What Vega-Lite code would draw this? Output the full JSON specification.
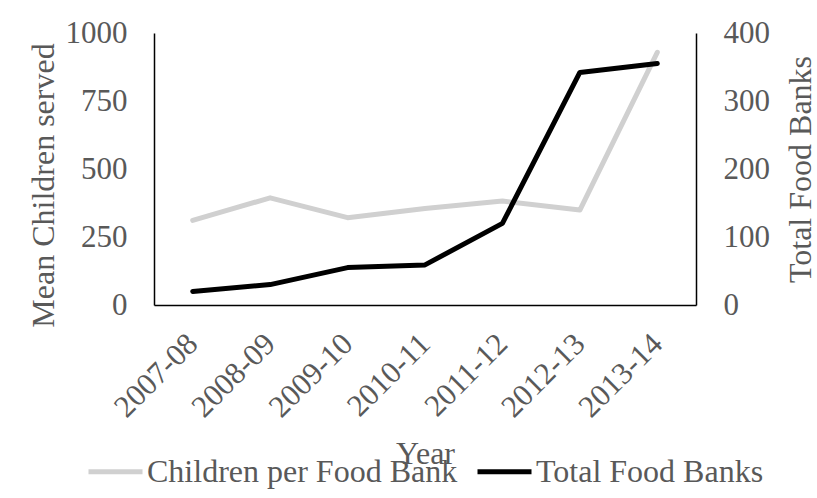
{
  "$schema": "https://vega.github.io/schema/vega-lite/v6.json",
  "autosize": "none",
  "width": 542,
  "height": 272,
  "padding": {"left": 154, "top": 33, "right": 121, "bottom": 193},
  "background": "white",
  "config": {
    "view": {"stroke": null},
    "font": "Liberation Serif",
    "axis": {
      "labelFont": "Liberation Serif",
      "titleFont": "Liberation Serif",
      "labelFontSize": 31,
      "titleFontSize": 32,
      "labelColor": "#595959",
      "titleColor": "#595959",
      "titleFontWeight": "normal",
      "grid": false,
      "ticks": false,
      "domainColor": "#000000",
      "domainWidth": 1.5
    },
    "legend": {
      "labelFont": "Liberation Serif",
      "labelFontSize": 32,
      "labelColor": "#595959"
    }
  },
  "data": {
    "values": [
      {"year": "2007-08", "children": 311, "banks": 20},
      {"year": "2008-09", "children": 394, "banks": 30},
      {"year": "2009-10", "children": 321, "banks": 55},
      {"year": "2010-11", "children": 355, "banks": 59},
      {"year": "2011-12", "children": 382, "banks": 120},
      {"year": "2012-13", "children": 349, "banks": 342},
      {"year": "2013-14", "children": 929, "banks": 355}
    ]
  },
  "encoding": {
    "x": {
      "field": "year",
      "type": "ordinal",
      "scale": {"type": "point", "padding": 0.5},
      "axis": {
        "title": "Year",
        "labelAngle": -45,
        "labelAlign": "right",
        "labelBaseline": "middle",
        "labelPadding": 34,
        "titleX": 271,
        "titleY": 158,
        "titleBaseline": "alphabetic",
        "titleAnchor": "middle"
      }
    }
  },
  "layer": [
    {
      "mark": {"type": "line", "strokeWidth": 5, "strokeCap": "round", "strokeJoin": "round"},
      "encoding": {
        "y": {
          "field": "children",
          "type": "quantitative",
          "scale": {"domain": [0, 1000]},
          "axis": {
            "title": "Mean Children served",
            "orient": "left",
            "values": [0, 250, 500, 750, 1000],
            "format": "d",
            "labelPadding": 27,
            "titleAngle": -90,
            "titleX": -101,
            "titleY": 152,
            "titleBaseline": "alphabetic",
            "titleAlign": "center"
          }
        },
        "color": {
          "datum": "Children per Food Bank",
          "type": "nominal",
          "scale": {"domain": ["Children per Food Bank", "Total Food Banks"], "range": ["#d0d0d0", "#000000"]},
          "legend": {
            "title": null,
            "orient": "none",
            "direction": "horizontal",
            "legendX": -68,
            "legendY": 409,
            "symbolType": "stroke",
            "symbolSize": 2916,
            "symbolStrokeWidth": 5,
            "labelOffset": 2,
            "columnPadding": 9,
            "labelLimit": 400
          }
        }
      }
    },
    {
      "mark": {"type": "line", "strokeWidth": 5, "strokeCap": "round", "strokeJoin": "round"},
      "encoding": {
        "y": {
          "field": "banks",
          "type": "quantitative",
          "scale": {"domain": [0, 400]},
          "axis": {
            "title": "Total Food Banks",
            "orient": "right",
            "values": [0, 100, 200, 300, 400],
            "labelPadding": 27,
            "titleAngle": -90,
            "titleX": 114,
            "titleY": 136,
            "titleBaseline": "alphabetic",
            "titleAlign": "center"
          }
        },
        "color": {"datum": "Total Food Banks", "type": "nominal"}
      }
    }
  ],
  "resolve": {"scale": {"y": "independent"}}
}
